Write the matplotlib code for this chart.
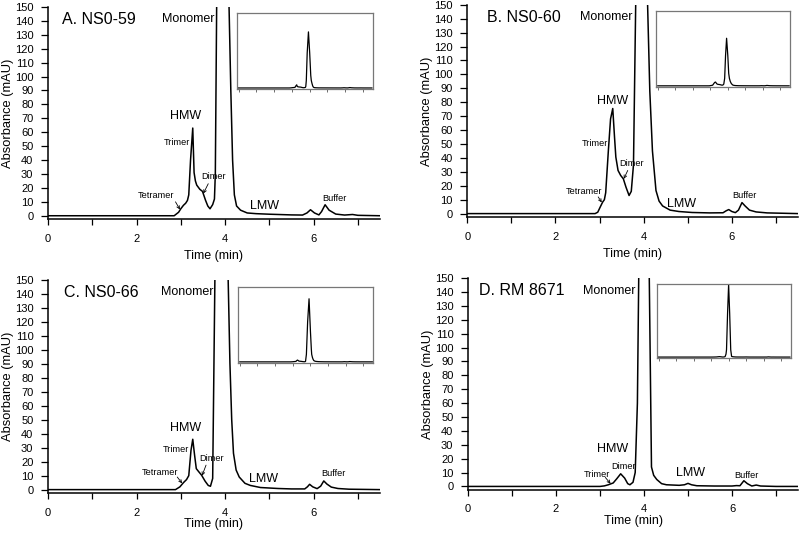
import matplotlib
matplotlib.use("Agg")
import matplotlib.pyplot as plt

plt.rcParams['font.family'] = ['Liberation Sans', 'DejaVu Sans']

# chromatogram traces (time in min, absorbance in mAU)
t_a = [0.0, 2.85, 2.95, 3.0, 3.06, 3.11, 3.15, 3.18, 3.22, 3.27, 3.3, 3.33, 3.36, 3.43, 3.49,
       3.56, 3.61, 3.66, 3.72, 3.76, 3.78, 3.81, 3.86, 3.93, 4.0, 4.06, 4.09, 4.13, 4.17,
       4.21, 4.26, 4.35, 4.5, 4.7, 5.0, 5.5, 5.75, 5.85, 5.93, 6.02, 6.12, 6.18, 6.26,
       6.35, 6.5, 6.7, 6.88, 7.0, 7.5]
abs_a = [0, 0, 2.5, 5, 7.5, 9, 11, 15, 40, 63, 31, 25, 22, 19, 17.5,
         11, 7, 5, 8, 12, 30, 150, 700, 1120, 700, 250, 150, 90, 40,
         15, 7, 4, 2, 1.5, 1.1, 0.6, 0.5, 2, 4.3, 2, 0.6, 3, 7.9,
         4, 1.2, 0.5, 0.9, 0.3, 0]

t_b = [0.0, 2.9, 2.96, 3.02, 3.07, 3.11, 3.14, 3.2, 3.25, 3.3, 3.34, 3.37, 3.42, 3.48,
       3.54, 3.6, 3.67, 3.72, 3.77, 3.82, 3.87, 3.93, 4.0, 4.05, 4.09, 4.14, 4.2, 4.28,
       4.35, 4.43, 4.6, 4.8, 5.1, 5.5, 5.8, 5.87, 5.93, 6.0, 6.08, 6.15, 6.23, 6.3, 6.4,
       6.55, 6.8, 7.5]
abs_b = [0, 0, 1, 5, 8.2, 10, 15, 45, 68, 75.5, 55, 40.6, 31, 27.4,
         25, 19, 13, 16, 35, 150, 600, 950, 600, 250, 150, 88, 45, 16.6,
         9, 5.5, 2.5, 1.5, 0.8, 0.5, 0.6, 2, 2.9, 1.5, 0.7, 2.5, 7.9, 5.5, 2.5,
         1.2, 0.5, 0]

t_c = [0.0, 2.88, 2.98, 3.06, 3.13, 3.18, 3.23, 3.27, 3.31, 3.35, 3.4, 3.47, 3.55, 3.62,
       3.67, 3.72, 3.77, 3.84, 3.92, 4.0, 4.05, 4.07, 4.11, 4.15, 4.19, 4.25, 4.32, 4.45,
       4.57, 4.8, 5.2, 5.5, 5.8, 5.86, 5.91, 5.98, 6.08, 6.16, 6.23, 6.3, 6.4, 6.55, 6.8,
       7.5]
abs_c = [0, 0, 2, 5, 7.2, 10, 28, 36, 25, 15, 13, 10.3, 6, 3,
         2.4, 8, 150, 800, 1260, 600, 250, 150, 90, 50, 26, 14, 9, 4.5,
         3, 1.5, 0.8, 0.5, 0.5, 2, 3.8, 2, 0.7, 2.5, 6.2, 4, 1.8, 0.8, 0.3,
         0]

t_d = [0.0, 3.0, 3.1, 3.19, 3.3, 3.38, 3.47, 3.56, 3.63, 3.68, 3.75, 3.8, 3.85, 3.88,
       3.94, 4.0, 4.06, 4.12, 4.17, 4.22, 4.29, 4.4, 4.51, 4.8, 4.92, 5.0, 5.08, 5.2,
       5.6, 6.0, 6.1, 6.18, 6.27, 6.35, 6.45, 6.55, 6.65, 7.0, 7.5]
abs_d = [0, 0, 0.4, 1.2, 2.5, 5.5, 9.1, 6, 2, 1.2, 3, 10, 60, 150,
         900, 1490, 900, 150, 14, 8, 5, 2, 1.2, 0.8, 1.2, 2.2, 1.2, 0.5,
         0.3, 0.3, 0.6, 0.5, 4.1, 2, 0.3, 1, 0.3, 0, 0]

titles = ["A. NS0-59", "B. NS0-60", "C. NS0-66", "D. RM 8671"]
title_x = [0.32, 0.45, 0.36, 0.24]
y_ticks = list(range(0, 151, 10))
x_major = [0, 2, 4, 6]
x_minor = [1, 3, 5, 7]

fig = plt.figure(figsize=(8, 5.36), dpi=100)

main_pos = [[0.060, 0.591, 0.415, 0.396],
            [0.584, 0.595, 0.4135, 0.396],
            [0.060, 0.080, 0.415, 0.398],
            [0.585, 0.086, 0.4125, 0.395]]
inset_pos = [[0.296, 0.834, 0.170, 0.142],
             [0.820, 0.838, 0.1675, 0.142],
             [0.2975, 0.323, 0.169, 0.142],
             [0.821, 0.332, 0.1675, 0.138]]
xlabel_pad = [4.5, 4.5, 0.5, 0.5]

traces = [(t_a, abs_a), (t_b, abs_b), (t_c, abs_c), (t_d, abs_d)]

# text labels per panel: (text, x, y, size, ha)
labels = [
    [("Monomer", 3.76, 141.6, 9, "right"), ("HMW", 3.10, 71.6, 9, "center"),
     ("Trimer", 3.21, 52.5, 6.6, "right"), ("Dimer", 3.73, 28, 6.6, "center"),
     ("Tetramer", 2.44, 14.8, 6.6, "center"), ("LMW", 4.88, 6.7, 9, "center"),
     ("Buffer", 6.47, 12.2, 6.6, "center")],
    [("Monomer", 3.75, 141, 9, "right"), ("HMW", 3.29, 80.8, 9, "center"),
     ("Trimer", 3.20, 50.5, 6.6, "right"), ("Dimer", 3.73, 36, 6.6, "center"),
     ("Tetramer", 2.65, 15.9, 6.6, "center"), ("LMW", 4.85, 6.7, 9, "center"),
     ("Buffer", 6.29, 13, 6.6, "center")],
    [("Monomer", 3.73, 141.6, 9, "right"), ("HMW", 3.10, 43.9, 9, "center"),
     ("Trimer", 3.19, 28.8, 6.6, "right"), ("Dimer", 3.70, 22.3, 6.6, "center"),
     ("Tetramer", 2.52, 12.2, 6.6, "center"), ("LMW", 4.87, 7.9, 9, "center"),
     ("Buffer", 6.44, 11.3, 6.6, "center")],
    [("Monomer", 3.80, 141, 9, "right"), ("HMW", 3.29, 26.9, 9, "center"),
     ("Trimer", 2.93, 8.9, 6.6, "center"), ("Dimer", 3.53, 14.4, 6.6, "center"),
     ("LMW", 5.05, 9.6, 9, "center"), ("Buffer", 6.33, 8.2, 6.6, "center")],
]

# little arrows: (start x, start y, end x, end y)
arrows = [
    [(2.88, 10, 2.98, 4.5), (3.62, 23, 3.51, 16)],
    [(2.97, 12, 3.05, 8), (3.64, 31, 3.55, 25)],
    [(2.92, 9, 3.03, 4.5), (3.57, 17.5, 3.48, 10)],
    [(3.12, 6.5, 3.24, 2)],
]

for i in range(4):
    t, v = traces[i]
    ax = fig.add_axes(main_pos[i])
    ax.plot(t, v, color="black", lw=1.1)
    ax.set_xlim(0, 7.5)
    ax.set_ylim(-2.5, 150)
    ax.spines["top"].set_visible(False)
    ax.spines["right"].set_visible(False)
    ax.spines["left"].set_linewidth(1.1)
    ax.spines["bottom"].set_linewidth(1.1)
    ax.set_yticks(y_ticks)
    ax.set_xticks(x_major)
    ax.set_xticks(x_minor, minor=True)
    ax.tick_params(axis="both", which="both", direction="out", labelsize=8,
                   width=0.9)
    ax.tick_params(axis="x", which="both", length=4.5, pad=6)
    ax.tick_params(axis="y", length=5, pad=5.5)
    ax.set_xlabel("Time (min)", fontsize=9, labelpad=xlabel_pad[i])
    ax.set_ylabel("Absorbance (mAU)", fontsize=9.3, labelpad=0.5)
    ax.text(title_x[i], 141, titles[i], fontsize=11.5, ha="left", va="center")
    for txt, x, y, s, ha in labels[i]:
        ax.text(x, y, txt, fontsize=s, ha=ha, va="center")
    for x0, y0, x1, y1 in arrows[i]:
        ax.annotate("", xy=(x1, y1), xytext=(x0, y0),
                    arrowprops=dict(arrowstyle="->", lw=0.6, color="black",
                                    mutation_scale=5, shrinkA=0, shrinkB=0))

    ins = fig.add_axes(inset_pos[i])
    ins.plot(t, v, color="black", lw=0.9)
    ins.set_xlim(-0.1, 7.55)
    ins.set_ylim(-20, 1500)
    ins.set_xticks(range(0, 8))
    ins.set_xticklabels([])
    ins.set_yticks([])
    ins.tick_params(axis="x", direction="out", length=2.5, width=0.6, color="#555555")
    for sp in ins.spines.values():
        sp.set_color("#777777")
        sp.set_linewidth(0.9)

fig.savefig("out.png", dpi=100)
